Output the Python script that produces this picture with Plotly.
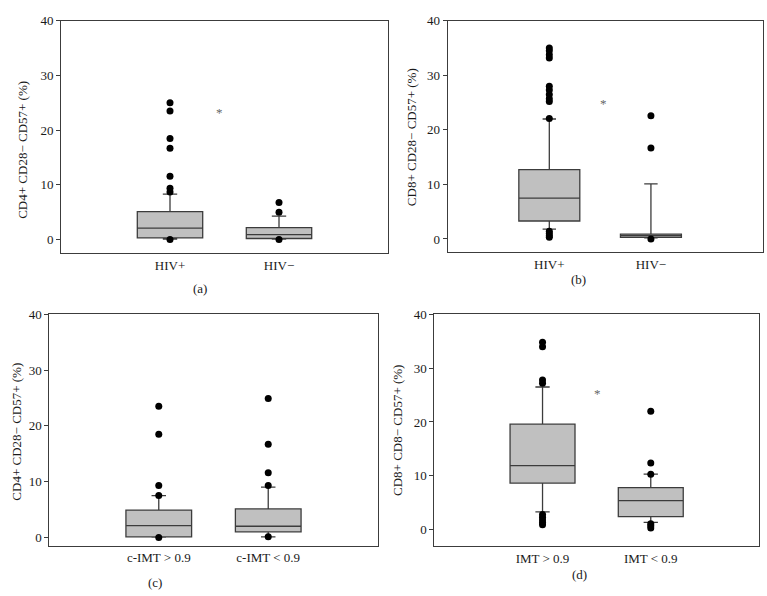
import plotly.graph_objects as go

W, H = 767, 596

# ---------------- data ----------------
cats_a = ["HIV+", "HIV−"]
q1_a = [0.3, 0.2]
med_a = [2.1, 0.9]
q3_a = [5.1, 2.2]
lo_a = [0.1, 0.1]
hi_a = [8.3, 4.3]
out_a = [[25.0, 23.5, 18.5, 16.7, 11.6, 9.4, 8.7, 0.0], [6.8, 5.0, 0.0]]

cats_b = ["HIV+", "HIV−"]
q1_b = [3.3, 0.3]
med_b = [7.5, 0.6]
q3_b = [12.7, 0.9]
lo_b = [1.8, 0.2]
hi_b = [22.0, 10.1]
out_b = [[35.0, 34.5, 33.8, 33.2, 28.0, 27.3, 26.5, 25.7, 25.2, 22.1, 1.4, 1.0, 0.6, 0.3],
         [22.6, 16.7, 0.0]]

cats_c = ["c-IMT > 0.9", "c-IMT < 0.9"]
q1_c = [0.1, 1.0]
med_c = [2.1, 2.0]
q3_c = [4.9, 5.1]
lo_c = [0.05, 0.1]
hi_c = [7.5, 9.0]
out_c = [[23.5, 18.5, 9.3, 7.5, 0.0], [24.9, 16.7, 11.6, 9.3, 0.1]]

cats_d = ["IMT > 0.9", "IMT < 0.9"]
q1_d = [8.65, 2.4]
med_d = [11.9, 5.4]
q3_d = [19.6, 7.8]
lo_d = [3.3, 1.35]
hi_d = [26.5, 10.3]
out_d = [[34.8, 34.0, 27.8, 27.2, 2.8, 2.3, 1.8, 1.3, 0.9], [22.0, 12.4, 10.3, 1.1, 0.7, 0.3]]

titles = ["CD4+ CD28− CD57+ (%)", "CD8+ CD28− CD57+ (%)",
          "CD4+ CD28− CD57+ (%)", "CD8+ CD8− CD57+ (%)"]
panel_labels = ["(a)", "(b)", "(c)", "(d)"]
star_pos = [(1.45, 23.2), (1.53, 24.8), None, (1.51, 25.2)]

panels = [
    (cats_a, q1_a, med_a, q3_a, lo_a, hi_a, out_a),
    (cats_b, q1_b, med_b, q3_b, lo_b, hi_b, out_b),
    (cats_c, q1_c, med_c, q3_c, lo_c, hi_c, out_c),
    (cats_d, q1_d, med_d, q3_d, lo_d, hi_d, out_d),
]

# ---------------- layout geometry (pixels) ----------------
def px(x):
    return x / W

def py(y):
    return 1 - y / H

# plot areas: left, right, top, bottom (px)
areas = [(61, 388, 14, 249), (447.7, 762.7, 14, 248.3),
         (49.3, 377.7, 311, 545), (434.3, 759, 311, 545.7)]
yranges = [[-2.47, 40], [-2.46, 40], [-1.47, 40], [-3.1, 40]]
xranges = [[0, 3], [0, 3.1], [0, 3], [0, 3]]
title_pos = [(22.5, 145), (411.7, 132), (16.7, 430), (398, 429)]
label_pos = [(200, 285), (578, 276), (155, 582.7), (579.3, 574.3)]

FONT = "Liberation Serif"
LINE = "#3c3c3c"
TXT = "#1a1a1a"

fig = go.Figure()
layout = dict(
    width=W, height=H, margin=dict(l=0, r=0, t=0, b=0),
    paper_bgcolor="white", plot_bgcolor="white", showlegend=False,
    font=dict(family=FONT, size=13, color=TXT),
)
annotations = []

for i, (cats, q1, med, q3, lo, hi, outs) in enumerate(panels):
    n = "" if i == 0 else str(i + 1)
    xa, ya = "x" + n, "y" + n
    pos = [1, 2]
    fig.add_trace(go.Box(
        x=pos, q1=q1, median=med, q3=q3, lowerfence=lo, upperfence=hi,
        width=0.6, whiskerwidth=0.22, boxpoints=False,
        fillcolor="#c0c0c0", line=dict(color=LINE, width=1.3),
        xaxis=xa, yaxis=ya, hoverinfo="skip",
    ))
    for p, vals in zip(pos, outs):
        fig.add_trace(go.Scatter(
            x=[p] * len(vals), y=vals, mode="markers",
            marker=dict(color="black", size=7),
            xaxis=xa, yaxis=ya, hoverinfo="skip",
        ))
    l, r, t, b = areas[i]
    layout["xaxis" + n] = dict(
        domain=[px(l), px(r)], range=xranges[i], anchor=ya,
        tickvals=pos, ticktext=cats, ticks="", showgrid=False, zeroline=False,
        showline=True, mirror=True, linecolor=LINE, linewidth=1,
        tickfont=dict(family=FONT, size=13, color=TXT),
    )
    layout["yaxis" + n] = dict(
        domain=[py(b), py(t)], range=yranges[i], anchor=xa,
        tickvals=[0, 10, 20, 30, 40], ticks="outside", ticklen=4,
        tickcolor=LINE, showgrid=False, zeroline=False,
        showline=True, mirror=True, linecolor=LINE, linewidth=1,
        tickfont=dict(family=FONT, size=13, color=TXT),
    )
    tx, ty = title_pos[i]
    annotations.append(dict(
        x=px(tx), y=py(ty), xref="paper", yref="paper", text=titles[i],
        textangle=-90, showarrow=False, xanchor="center", yanchor="middle",
        font=dict(family=FONT, size=13, color=TXT),
    ))
    lx, ly = label_pos[i]
    annotations.append(dict(
        x=px(lx), y=py(ly), xref="paper", yref="paper", text=panel_labels[i],
        showarrow=False, xanchor="center", yanchor="middle",
        font=dict(family=FONT, size=13, color=TXT),
    ))
    if star_pos[i] is not None:
        sx, sy = star_pos[i]
        annotations.append(dict(
            x=sx, y=sy, xref=xa, yref=ya, text="*", showarrow=False,
            font=dict(family=FONT, size=13, color="#666"),
        ))

layout["annotations"] = annotations
fig.update_layout(**layout)
fig.write_html(
    "out.html",
    config={"displayModeBar": False, "staticPlot": True},
    post_script="document.body.style.margin='0';document.body.style.overflow='hidden';",
)
